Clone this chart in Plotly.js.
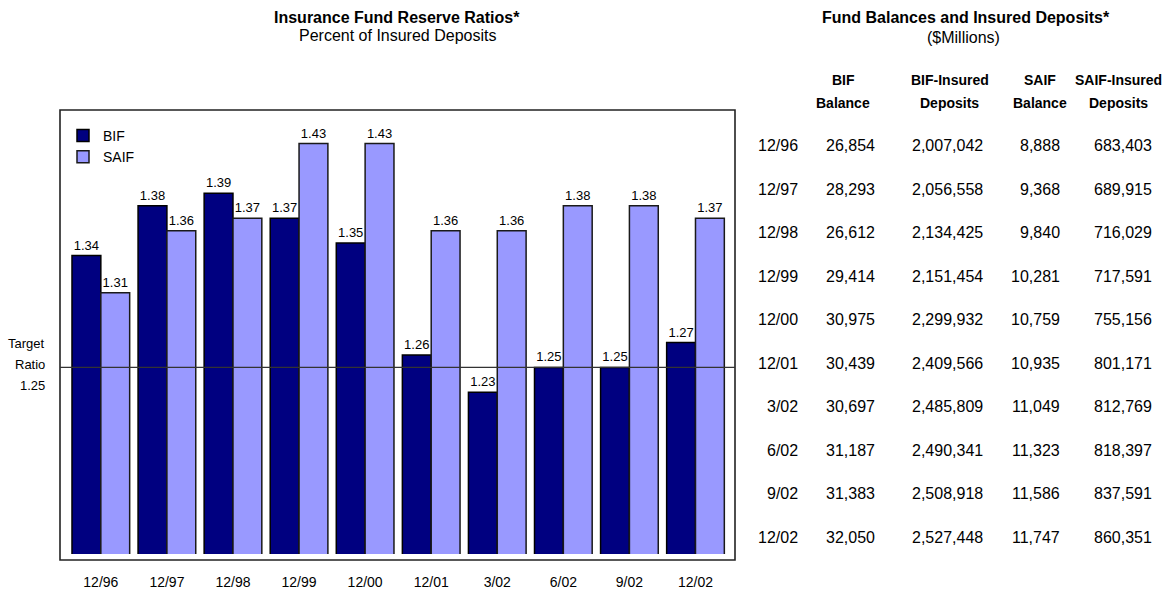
<!DOCTYPE html>
<html>
<head>
<meta charset="utf-8">
<script src="https://cdn.plot.ly/plotly-3.0.1.min.js"></script>
<style>html,body{margin:0;padding:0;background:#fff;}#chart{width:1167px;height:591px;}</style>
</head>
<body>
<div id="chart"></div>
<script>
// ---- Data ----
const categories = ['12/96','12/97','12/98','12/99','12/00','12/01','3/02','6/02','9/02','12/02'];
const bifRatio  = [1.34, 1.38, 1.39, 1.37, 1.35, 1.26, 1.23, 1.25, 1.25, 1.27];
const saifRatio = [1.31, 1.36, 1.37, 1.43, 1.43, 1.36, 1.36, 1.38, 1.38, 1.37];
const targetRatio = 1.25;

const tableDates   = ['12/96','12/97','12/98','12/99','12/00','12/01','3/02','6/02','9/02','12/02'];
const bifBalance   = [26854, 28293, 26612, 29414, 30975, 30439, 30697, 31187, 31383, 32050];
const bifDeposits  = [2007042, 2056558, 2134425, 2151454, 2299932, 2409566, 2485809, 2490341, 2508918, 2527448];
const saifBalance  = [8888, 9368, 9840, 10281, 10759, 10935, 11049, 11323, 11586, 11747];
const saifDeposits = [683403, 689915, 716029, 717591, 755156, 801171, 812769, 818397, 837591, 860351];
const tableHeaders = [['BIF','Balance'],['BIF-Insured','Deposits'],['SAIF','Balance'],['SAIF-Insured','Deposits']];

// ---- Layout helpers (pixel -> paper) ----
const PL = 60, PR = 735, PT = 110, PB = 554;
const px = x => (x - PL) / (PR - PL);
const py = y => (PB - y) / (PB - PT);
const FONT = 'Liberation Sans, Arial, Helvetica, sans-serif';
const fmt = v => v.toLocaleString('en-US');

const traces = [
  {type:'bar', name:'BIF', x:categories, y:bifRatio,
   marker:{color:'#000080', line:{color:'#000000', width:1.5}},
   texttemplate:'%{y:.2f}', textposition:'outside', cliponaxis:false,
   textfont:{family:FONT, size:13, color:'#000'}, hoverinfo:'x+y'},
  {type:'bar', name:'SAIF', x:categories, y:saifRatio,
   marker:{color:'#9999FF', line:{color:'#1a1a1a', width:1.5}},
   texttemplate:'%{y:.2f}', textposition:'outside', cliponaxis:false,
   textfont:{family:FONT, size:13, color:'#000'}, hoverinfo:'x+y'}
];

const ann = [];
function addText(text, x, y, size, anchor, bold){
  ann.push({text: bold ? '<b>'+text+'</b>' : text, xref:'paper', yref:'paper',
    x:px(x), y:py(y), xanchor:anchor, yanchor:'middle', showarrow:false,
    font:{family:FONT, size:size, color:'#000'}});
}
// Titles
addText('Insurance Fund Reserve Ratios*', 397, 17, 16, 'center', true);
addText('Percent of Insured Deposits', 397, 36, 16, 'center', false);
addText('Fund Balances and Insured Deposits*', 966, 18, 16, 'center', true);
addText('($Millions)', 964, 37, 16, 'center', false);
// Target label
addText('Target', 47, 343, 13, 'right', false);
addText('Ratio', 47, 364, 13, 'right', false);
addText(targetRatio.toFixed(2), 47, 385, 13, 'right', false);
// Table headers
const headerX = [843, 950, 1040, 1118];
tableHeaders.forEach((h,i)=>{
  addText(h[0], headerX[i], 80, 14, 'center', true);
  addText(h[1], headerX[i], 103, 14, 'center', true);
});
// Table rows
const colRight = [800, 877, 985, 1062, 1154];
tableDates.forEach((d,i)=>{
  const y = 145.7 + i*43.5;
  addText(d, colRight[0], y, 16, 'right', false);
  addText(fmt(bifBalance[i]), colRight[1], y, 16, 'right', false);
  addText(fmt(bifDeposits[i]), colRight[2], y, 16, 'right', false);
  addText(fmt(saifBalance[i]), colRight[3], y, 16, 'right', false);
  addText(fmt(saifDeposits[i]), colRight[4], y, 16, 'right', false);
});

const shapes = [
  // frame
  {type:'rect', xref:'paper', yref:'paper', x0:0, x1:1, y0:py(560), y1:1,
   line:{color:'#222', width:1.6}, fillcolor:'rgba(0,0,0,0)', layer:'above'},
  // target line
  {type:'line', xref:'paper', yref:'y', x0:0, x1:1, y0:targetRatio, y1:targetRatio,
   line:{color:'#333', width:1.3}, layer:'above'}
];

const layout = {
  width:1167, height:591,
  margin:{l:PL, r:1167-PR, t:PT, b:591-PB, pad:0},
  paper_bgcolor:'#fff', plot_bgcolor:'#fff',
  barmode:'group', bargap:0.127, bargroupgap:0,
  font:{family:FONT, color:'#000'},
  xaxis:{type:'category', range:[-0.618, 9.598], showgrid:false, zeroline:false, showline:false,
    ticks:'outside', ticklen:15, tickcolor:'rgba(0,0,0,0)',
    tickfont:{family:FONT, size:14, color:'#000'}, fixedrange:true},
  yaxis:{range:[1.1, 1.457], showgrid:false, zeroline:false, showline:false,
    showticklabels:false, ticks:'', fixedrange:true},
  showlegend:true,
  legend:{x:px(63), y:py(120), xanchor:'left', yanchor:'top', bgcolor:'rgba(0,0,0,0)',
    font:{family:FONT, size:14, color:'#000'}, traceorder:'normal', itemclick:false},
  annotations:ann,
  shapes:shapes
};

Plotly.newPlot('chart', traces, layout, {displayModeBar:false, staticPlot:true});
</script>
</body>
</html>
